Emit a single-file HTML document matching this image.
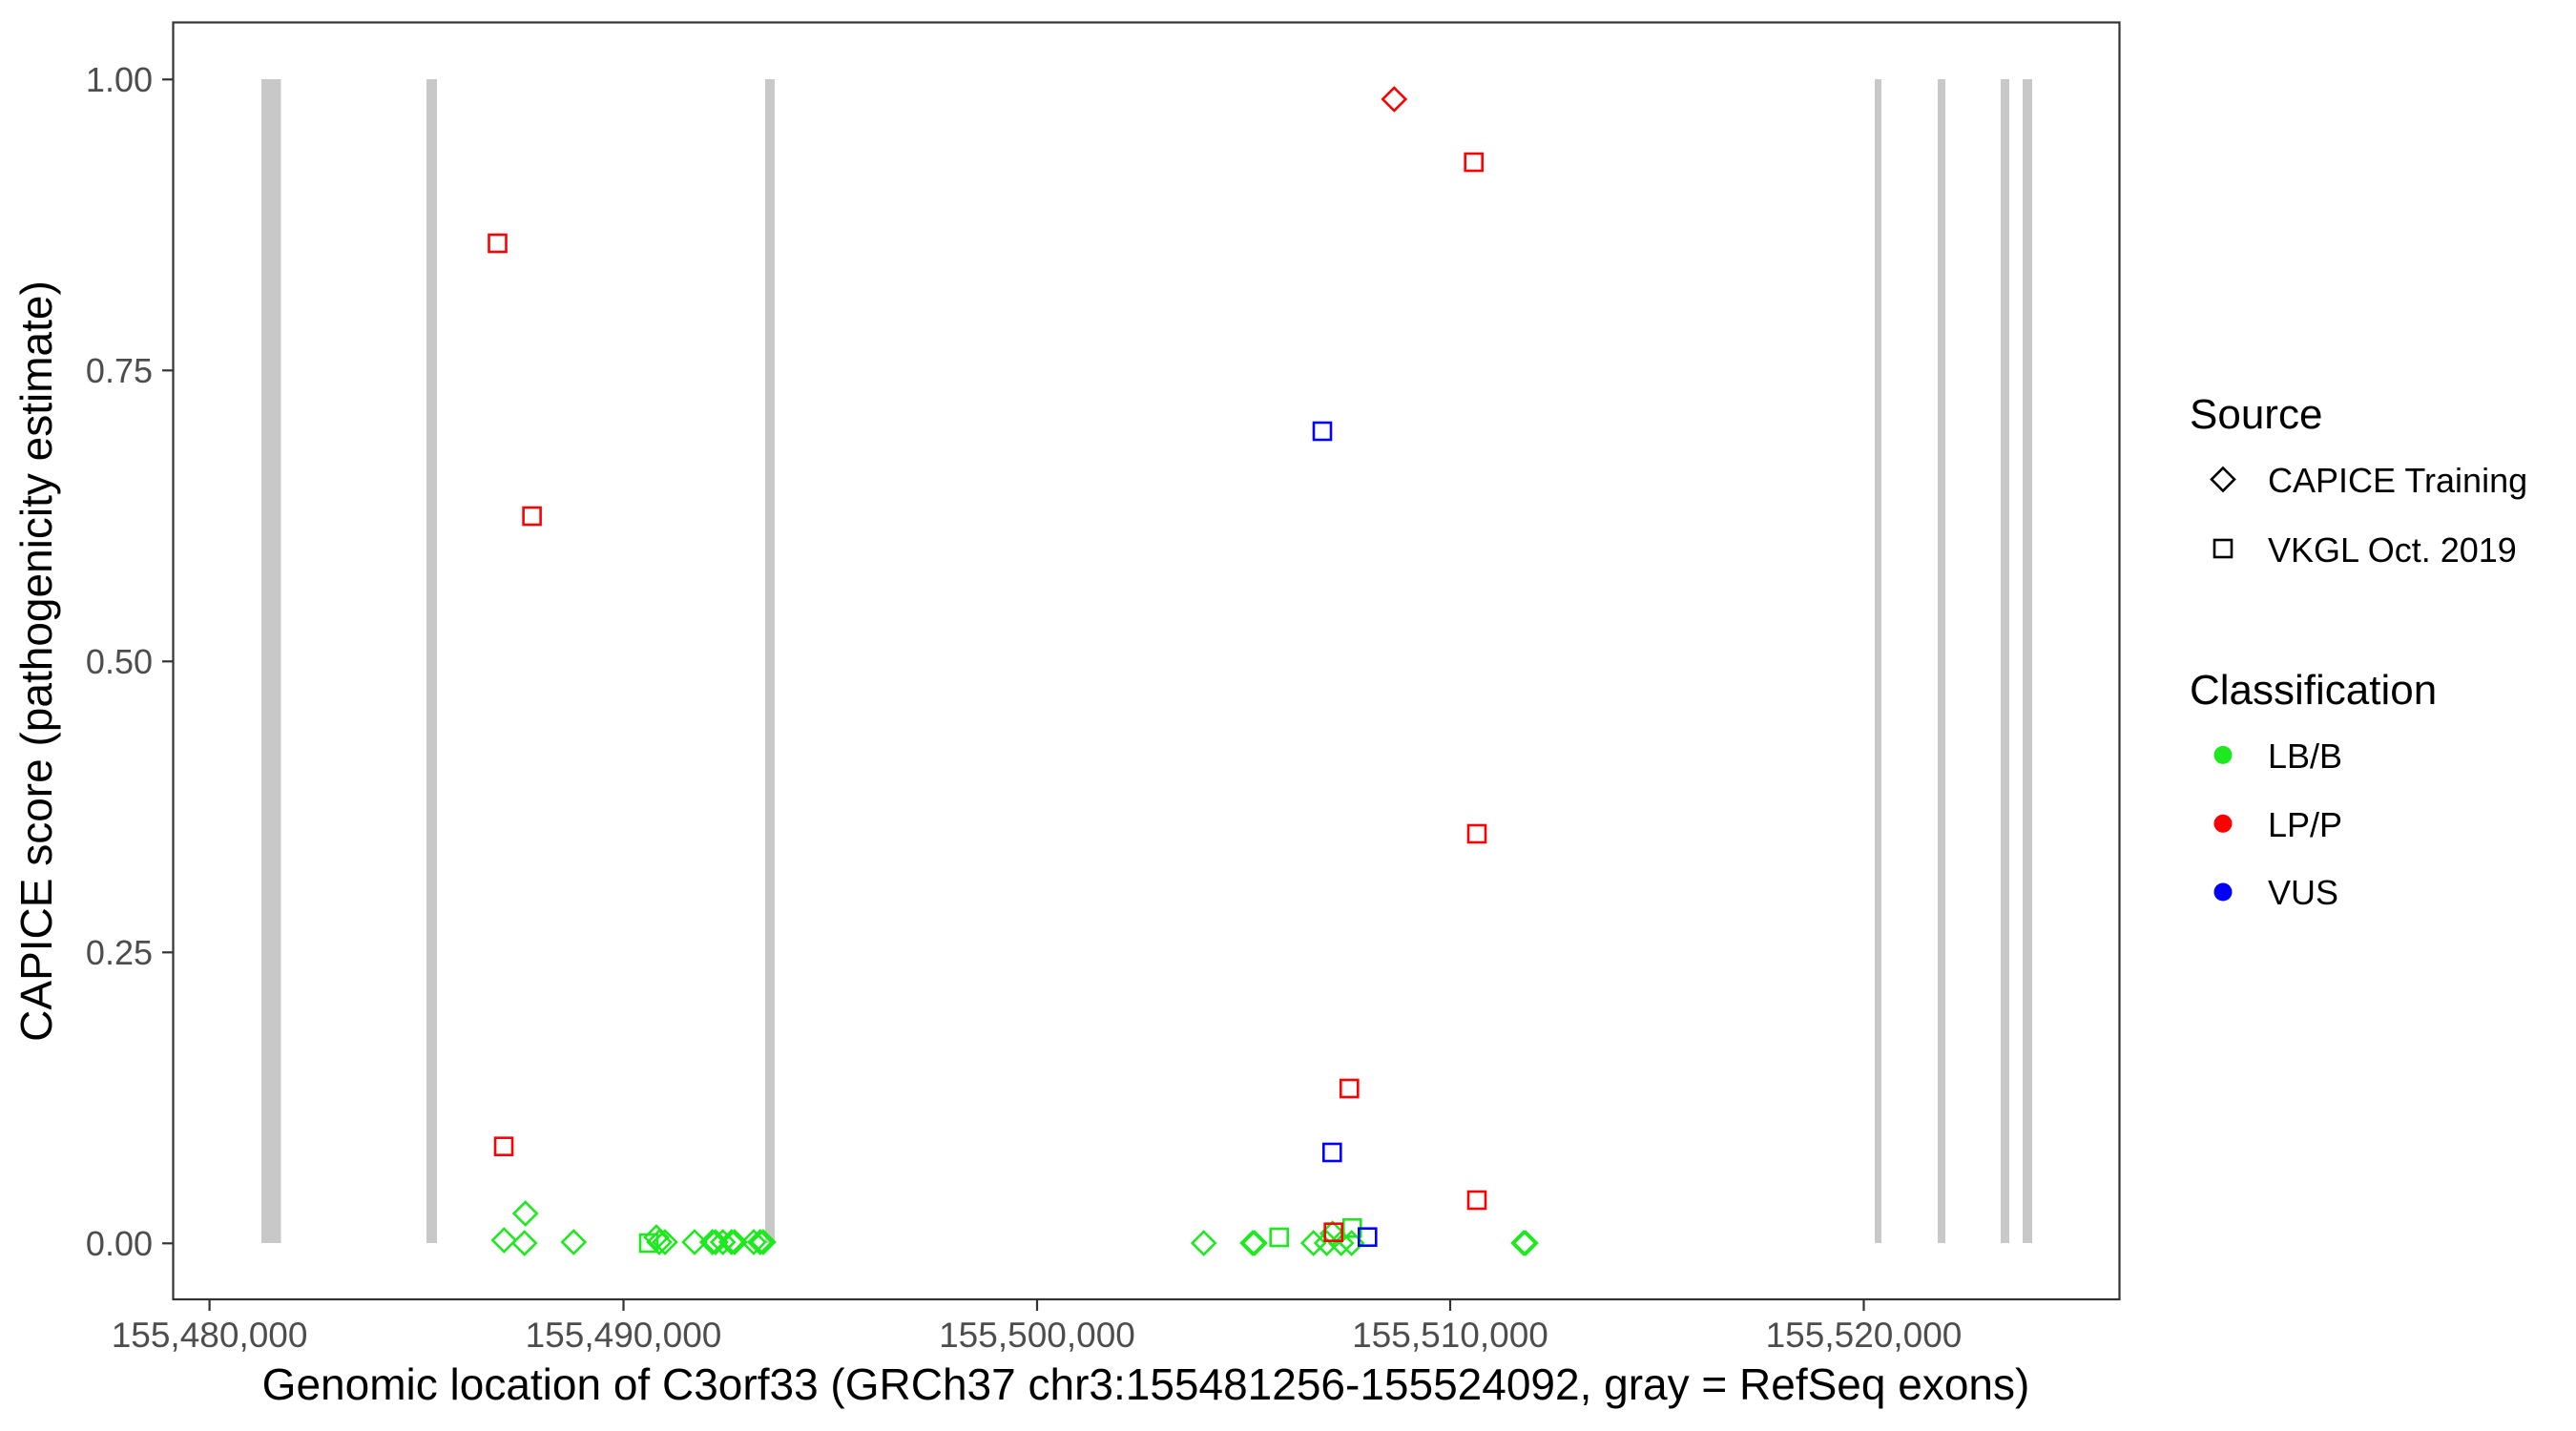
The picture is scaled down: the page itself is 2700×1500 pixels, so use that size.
<!DOCTYPE html>
<html><head><meta charset="utf-8"><style>
html,body{margin:0;padding:0;background:#fff;}
svg{display:block;font-family:"Liberation Sans",Arial,sans-serif;}
</style></head><body>
<svg width="2700" height="1500" viewBox="0 0 2700 1500" xmlns="http://www.w3.org/2000/svg">
<rect width="2700" height="1500" fill="#fff"/>
<g fill="#c8c8c8">
<rect x="274" y="83" width="20.5" height="1220"/>
<rect x="447" y="83" width="11" height="1220"/>
<rect x="802" y="83" width="10" height="1220"/>
<rect x="1965" y="83" width="7" height="1220"/>
<rect x="2031" y="83" width="8" height="1220"/>
<rect x="2097" y="83" width="9" height="1220"/>
<rect x="2120" y="83" width="10" height="1220"/>
</g>
<defs>
<path id="d" d="M0,-12 L12,0 L0,12 L-12,0 Z"/>
<rect id="s" x="-9" y="-9" width="18" height="18"/>
</defs>
<g fill="none" stroke-width="2.6">
<g stroke="#1ee81e">
<use href="#d" x="550.7" y="1272"/><use href="#d" x="528.3" y="1300"/><use href="#d" x="549.7" y="1303"/>
<use href="#d" x="601.3" y="1302"/><use href="#d" x="688" y="1297"/><use href="#d" x="691" y="1302"/>
<use href="#d" x="697" y="1302"/><use href="#d" x="728" y="1302"/><use href="#d" x="746.7" y="1302"/>
<use href="#d" x="750" y="1302"/><use href="#d" x="757.7" y="1302"/><use href="#d" x="766.7" y="1302"/>
<use href="#d" x="770" y="1302"/><use href="#d" x="790" y="1302"/><use href="#d" x="796.7" y="1302"/>
<use href="#d" x="800" y="1302"/><use href="#d" x="1261.7" y="1303"/><use href="#d" x="1313" y="1303"/>
<use href="#d" x="1315" y="1303"/><use href="#d" x="1376.7" y="1303"/><use href="#d" x="1390.7" y="1303"/>
<use href="#d" x="1396.7" y="1293"/><use href="#d" x="1405.7" y="1303"/><use href="#d" x="1416.7" y="1303"/>
<use href="#d" x="1597" y="1303"/><use href="#d" x="1599" y="1303"/>
<use href="#s" x="680" y="1303"/><use href="#s" x="1340.7" y="1297"/><use href="#s" x="1417.3" y="1287.3"/>
</g>
<g stroke="#ff0000">
<use href="#s" x="521.5" y="255"/><use href="#s" x="557.6" y="541"/><use href="#s" x="528" y="1201.7"/>
<use href="#s" x="1544.7" y="170"/><use href="#s" x="1548" y="874"/><use href="#s" x="1414.3" y="1141"/>
<use href="#s" x="1548" y="1258"/><use href="#s" x="1397.7" y="1291.7"/>
<use href="#d" x="1461.3" y="104"/>
</g>
<g stroke="#0000ff">
<use href="#s" x="1386" y="452"/><use href="#s" x="1396.3" y="1208"/><use href="#s" x="1433.3" y="1296.7"/>
</g>
</g>
<rect x="181.5" y="23.5" width="2040" height="1338.5" fill="none" stroke="#333" stroke-width="2.2"/>
<g stroke="#333" stroke-width="2.2">
<line x1="170" x2="181" y1="83.3" y2="83.3"/><line x1="170" x2="181" y1="388.3" y2="388.3"/>
<line x1="170" x2="181" y1="693.3" y2="693.3"/><line x1="170" x2="181" y1="998.3" y2="998.3"/>
<line x1="170" x2="181" y1="1303.3" y2="1303.3"/>
<line x1="219.6" x2="219.6" y1="1362" y2="1374"/><line x1="653.5" x2="653.5" y1="1362" y2="1374"/>
<line x1="1087" x2="1087" y1="1362" y2="1374"/><line x1="1520" x2="1520" y1="1362" y2="1374"/>
<line x1="1953.5" x2="1953.5" y1="1362" y2="1374"/>
</g>
<g fill="#4d4d4d" font-size="36" text-anchor="end">
<text x="160" y="96">1.00</text><text x="160" y="401">0.75</text><text x="160" y="706">0.50</text>
<text x="160" y="1011">0.25</text><text x="160" y="1316">0.00</text>
</g>
<g fill="#4d4d4d" font-size="37" text-anchor="middle">
<text x="219.6" y="1412">155,480,000</text><text x="653.5" y="1412">155,490,000</text>
<text x="1087" y="1412">155,500,000</text><text x="1520" y="1412">155,510,000</text>
<text x="1953.5" y="1412">155,520,000</text>
</g>
<text x="1201" y="1467" font-size="46" text-anchor="middle" fill="#000">Genomic location of C3orf33 (GRCh37 chr3:155481256-155524092, gray = RefSeq exons)</text>
<text transform="translate(54,693) rotate(-90)" font-size="46" text-anchor="middle" fill="#000">CAPICE score (pathogenicity estimate)</text>
<text x="2295" y="449" font-size="44" fill="#000">Source</text>
<path d="M2330,490.5 L2342,502.5 L2330,514.5 L2318,502.5 Z" fill="none" stroke="#000" stroke-width="2.6"/>
<text x="2377" y="516" font-size="36" fill="#000">CAPICE Training</text>
<rect x="2321" y="566" width="18" height="18" fill="none" stroke="#000" stroke-width="2.6"/>
<text x="2377" y="589" font-size="36" fill="#000">VKGL Oct. 2019</text>
<text x="2295" y="738" font-size="44" fill="#000">Classification</text>
<circle cx="2330" cy="791.4" r="9.5" fill="#1ee81e"/>
<text x="2377" y="805" font-size="36" fill="#000">LB/B</text>
<circle cx="2330" cy="863.3" r="9.5" fill="#ff0000"/>
<text x="2377" y="877" font-size="36" fill="#000">LP/P</text>
<circle cx="2330" cy="935" r="9.5" fill="#0000ff"/>
<text x="2377" y="948" font-size="36" fill="#000">VUS</text>
</svg>
</body></html>
